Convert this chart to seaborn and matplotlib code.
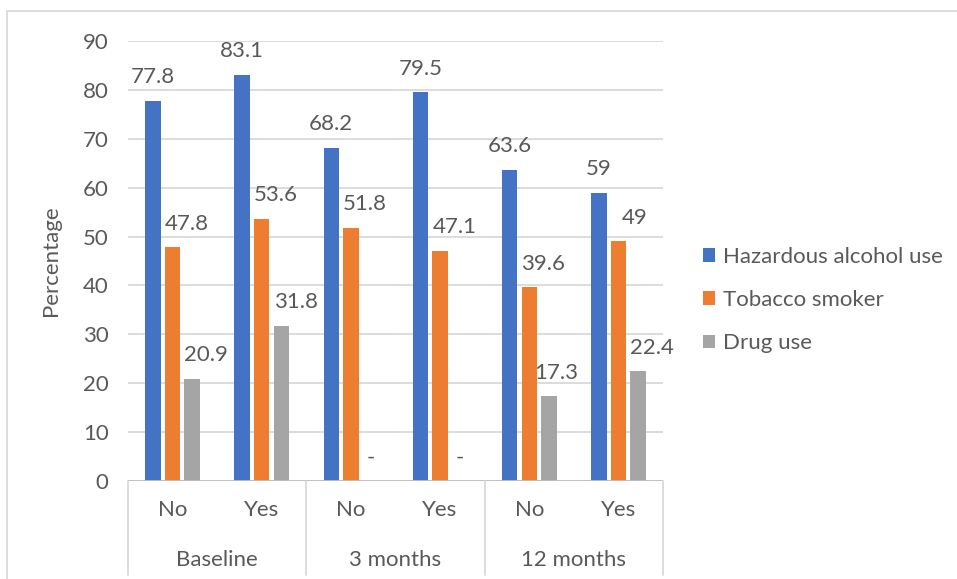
import numpy as np
import pandas as pd
import seaborn as sns
import matplotlib.pyplot as plt
from matplotlib.patches import Rectangle
from matplotlib.lines import Line2D
import matplotlib.transforms as mtransforms

# ---- data -------------------------------------------------------------
periods = ["Baseline", "3 months", "12 months"]
answers = ["No", "Yes"]
series = ["Hazardous alcohol use", "Tobacco smoker", "Drug use"]
alcohol = [77.8, 83.1, 68.2, 79.5, 63.6, 59]
tobacco = [47.8, 53.6, 51.8, 47.1, 39.6, 49]
drugs = [20.9, 31.8, 0, 0, 17.3, 22.4]   # 0 = not recorded, shown as "-"
yticks = [0, 10, 20, 30, 40, 50, 60, 70, 80, 90]

colors = {"Hazardous alcohol use": "#4472C4",
          "Tobacco smoker": "#ED7D31",
          "Drug use": "#A5A5A5"}
TEXT = "#595959"
GRID = "#D9D9D9"

slots = [f"{p} {a}" for p in periods for a in answers]
rows = []
for name, vals in zip(series, [alcohol, tobacco, drugs]):
    for s, v in zip(slots, vals):
        rows.append({"slot": s, "measure": name, "pct": v})
df = pd.DataFrame(rows)

# ---- figure -----------------------------------------------------------
sns.set_theme(style="white")
plt.rcParams["font.family"] = ["Lato", "DejaVu Sans"]
plt.rcParams["text.color"] = TEXT

W, H = 957, 579
fig = plt.figure(figsize=(W / 100, H / 100), dpi=100)
ax = fig.add_axes([128 / W, 1 - 481 / H, (663 - 128) / W, (481 - 41) / H])

sns.barplot(data=df, x="slot", y="pct", hue="measure", order=slots,
            hue_order=series, palette=colors, width=0.66, gap=0.21,
            saturation=1, linewidth=0, ax=ax)

ax.set_xlim(-0.5, len(slots) - 0.5)
ax.set_ylim(0, 90)
ax.set_yticks(yticks)
ax.set_yticklabels([str(t) for t in yticks], fontsize=16, color=TEXT)
ax.tick_params(axis="y", length=0, pad=14)
ax.yaxis.grid(True, color=GRID, linewidth=1.3)
ax.set_axisbelow(True)
for sp in ax.spines.values():
    sp.set_visible(False)
ax.axhline(0, color="#BFBFBF", linewidth=1.3, zorder=1)

ax.set_ylabel("Percentage", fontsize=16, color=TEXT)
ax.yaxis.set_label_coords(-0.125, 0.5)
ax.set_xlabel("")

# two-level category axis
ax.set_xticks(range(len(slots)))
ax.set_xticklabels(answers * len(periods), fontsize=16, color=TEXT)
ax.tick_params(axis="x", length=0, pad=14)
blend = mtransforms.blended_transform_factory(ax.transData, ax.transAxes)
y_bottom = (481 - 575) / (481 - 41)
for xb in np.arange(-0.5, len(slots), 2):
    ax.add_line(Line2D([xb, xb], [0, -y_bottom * -1], transform=blend,
                       color=GRID, linewidth=1.3, clip_on=False))
for i, p in enumerate(periods):
    ax.text(2 * i + 0.5, (481 - 560) / (481 - 41), p, transform=blend,
            ha="center", va="center", fontsize=16, color=TEXT)

# value labels
label_nudge = {(2, 4): -7, (1, 5): 11}   # pixel shifts for crowded labels
for si, (cont, vals) in enumerate(zip(ax.containers, [alcohol, tobacco, drugs])):
    for bi, (bar, v) in enumerate(zip(cont, vals)):
        txt = "-" if v == 0 else f"{v:g}"
        top = bar.get_height()
        if si == 0 or v == 0:
            x = bar.get_x() + bar.get_width() / 2
            ha = "center"
        else:
            x = bar.get_x()
            ha = "left"
        dx = label_nudge.get((si, bi), 0) * 0.72
        ax.annotate(txt, (x, top), xytext=(dx, 17), textcoords="offset points",
                    ha=ha, va="center", fontsize=16, color=TEXT)

# legend
handles, labels = ax.get_legend_handles_labels()
ax.legend_.remove()
fig.legend(handles, labels, loc="center left",
           bbox_to_anchor=(703 / W, 1 - 300 / H), bbox_transform=fig.transFigure,
           frameon=False, fontsize=16, labelcolor=TEXT, handlelength=0.55,
           handleheight=0.55, handletextpad=0.35, labelspacing=1.05,
           borderpad=0, borderaxespad=0)

# chart frame
fig.add_artist(Rectangle((7 / W, -0.1), 1.2, 1.1 - 11 / H, transform=fig.transFigure,
                         fill=False, edgecolor=GRID, linewidth=1.3))

fig.savefig("out.png", dpi=100)
